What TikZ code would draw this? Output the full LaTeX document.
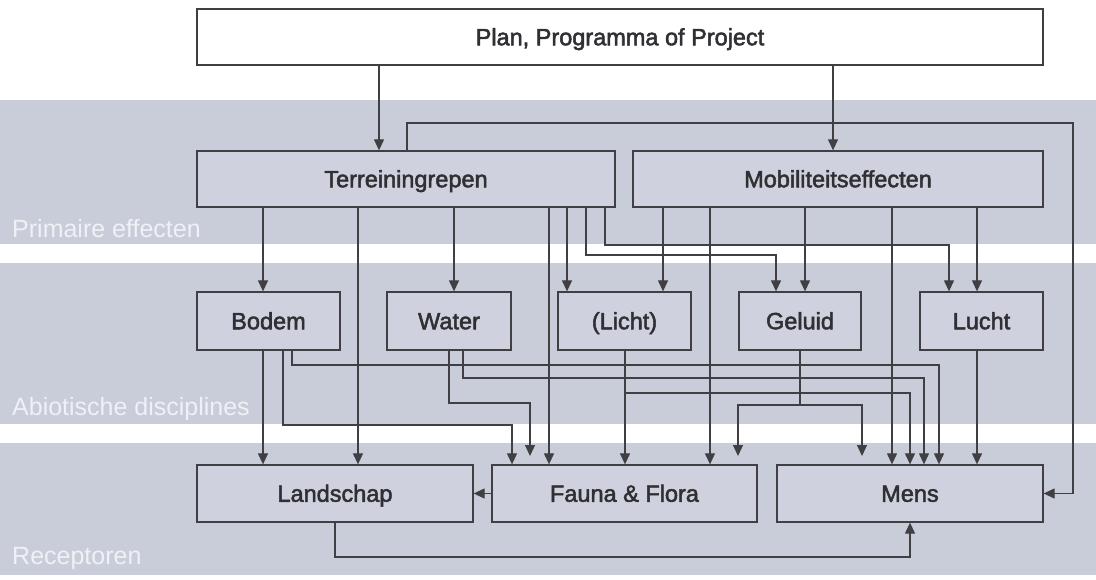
\documentclass[tikz,border=0pt]{standalone}
\usepackage{fontspec}
\setmainfont{Liberation Sans}
\newfontfamily\discfont[FakeBold=2.2]{Liberation Sans}
\usetikzlibrary{arrows.meta}
\definecolor{bandgrey}{RGB}{201,205,217}
\definecolor{boxgrey}{RGB}{207,210,222}
\definecolor{linegrey}{RGB}{64,64,68}
\definecolor{txtgrey}{RGB}{48,48,52}
\definecolor{lblwhite}{RGB}{240,241,246}
\tikzset{
  disc/.style={draw=linegrey,line width=1.3pt,fill=boxgrey,text=txtgrey,inner sep=0pt,text height=16.5pt,text depth=0pt,font=\fontsize{23.5}{27}\discfont},
  arr/.style={draw=linegrey,line width=1.2pt,-{Triangle[length=11pt,width=10pt]}},
  bandlbl/.style={anchor=west,text=lblwhite,inner sep=0pt,font=\fontsize{25}{28}\selectfont},
}
\begin{document}
\begin{tikzpicture}[x=1pt,y=-1pt]
\pgfmathsetmacro{\kw}{1096}
\pgfmathsetmacro{\kh}{579}
\fill[white] (0,0) rectangle (\kw,\kh);
\useasboundingbox (0,0) rectangle (\kw,\kh);
\foreach \ya/\yb in {100/244,263/424,443/575}{\fill[bandgrey] (0,\ya) rectangle (\kw,\yb);}
\node[bandlbl] (lprim) at (12,229) {Primaire effecten};
\node[bandlbl] (labio) at (12,409) {Abiotische disciplines};
\node[bandlbl] (lrec) at (12,558) {Receptoren};
\node[disc,fill=white,minimum width=846pt,minimum height=56pt] (plan) at (620,37) {Plan, Programma of Project};
\node[disc,minimum width=418pt,minimum height=56pt] (terr) at (406,179) {Terreiningrepen};
\node[disc,minimum width=410pt,minimum height=56pt] (mob) at (838,179) {Mobiliteitseffecten};
\foreach \nm/\cx/\w/\lb in {bodem/268.5/143/Bodem,water/449/124/Water,licht/624.5/133/{(Licht)},geluid/800/122/Geluid,lucht/981.5/123/Lucht}{
  \node[disc,minimum width=\w pt,minimum height=58pt] (\nm) at (\cx,321) {\lb};}
\foreach \nm/\cx/\w/\lb in {landschap/335/276/Landschap,fauna/624.5/265/{Fauna \& Flora},mens/910/266/Mens}{
  \node[disc,minimum width=\w pt,minimum height=57pt] (\nm) at (\cx,493.5) {\lb};}
\foreach \src/\dst/\cx in {plan/terr/379,plan/mob/833,terr/bodem/263,terr/landschap/358,terr/water/454,terr/fauna/549,terr/licht/567,mob/licht/663,mob/fauna/710,mob/geluid/805,mob/mens/892,mob/lucht/977,bodem/landschap/263,licht/fauna/625,lucht/mens/977}{
  \coordinate (kcol) at (\cx,0);
  \draw[arr] (\src.south -| kcol) -- (\dst.north -| kcol);}
\foreach \src/\dst/\xa/\yb/\xb in {terr/geluid/586/255/776,terr/lucht/605/245/949,bodem/fauna/283/425/512,bodem/mens/292/365/939,water/mens/463/378/924,licht/mens/625/393/910}{
  \coordinate (ka) at (\xa,0);
  \coordinate (kb) at (\xb,\yb);
  \draw[arr] (\src.south -| ka) |- (kb) -- (\dst.north -| kb);}
\coordinate (wbend) at (530,403);
\coordinate (wtip) at (530,456);
\draw[arr] (water.south) |- (wbend) -- (wtip);
\coordinate (gsplit) at (800,405);
\coordinate (gtipf) at (738,456);
\coordinate (gtipm) at (862,456);
\draw[arr] (geluid.south) -- (gsplit) -| (gtipf);
\draw[arr] (gsplit) -| (gtipm);
\coordinate (loopa) at (407,123);
\coordinate (loopb) at (1073,493.5);
\draw[arr] (terr.north -| loopa) -- (loopa) -| (loopb) -- (mens.east);
\draw[arr] (fauna.west) -- (landschap.east);
\coordinate (lbot) at (335,557);
\draw[arr] (landschap.south) -- (lbot) -| (mens.south);
%\draw[red,step=50] (0,0) grid (\kw,\kh);
\end{tikzpicture}
\end{document}
